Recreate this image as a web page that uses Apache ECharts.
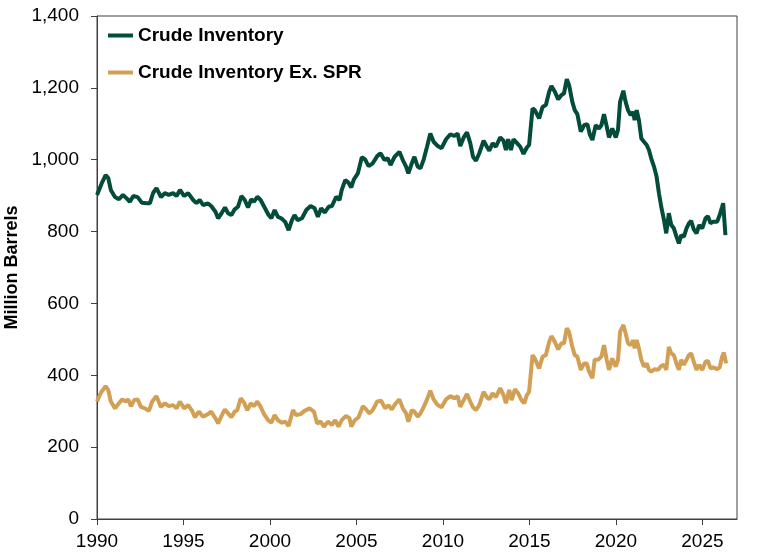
<!DOCTYPE html>
<html>
<head>
<meta charset="utf-8">
<script src="https://cdn.jsdelivr.net/npm/echarts@6/dist/echarts.min.js"></script>
<style>
  html, body { margin: 0; padding: 0; background: #fff; }
  #chart { width: 770px; height: 558px; }
</style>
</head>
<body>
<div id="chart"></div>
<script>
const seriesNames = ['Crude Inventory', 'Crude Inventory Ex. SPR'];
const yearTicks = [1990, 1995, 2000, 2005, 2010, 2015, 2020, 2025];

// Crude Inventory (million barrels)
const inventoryDates = [
  1990.00, 1990.27, 1990.50, 1990.65, 1990.80, 1991.04, 1991.27, 1991.50, 1991.70, 1991.90,
  1992.10, 1992.35, 1992.60, 1992.86, 1993.06, 1993.25, 1993.44, 1993.70, 1993.92, 1994.15,
  1994.40, 1994.60, 1994.80, 1995.04, 1995.27, 1995.56, 1995.75, 1995.94, 1996.13, 1996.42,
  1996.60, 1996.85, 1997.00, 1997.20, 1997.40, 1997.58, 1997.77, 1997.96, 1998.15, 1998.35,
  1998.54, 1998.73, 1998.92, 1999.08, 1999.27, 1999.46, 1999.69, 1999.92, 2000.08, 2000.27,
  2000.46, 2000.65, 2000.88, 2001.08, 2001.27, 2001.42, 2001.60, 2001.85, 2002.10, 2002.35,
  2002.58, 2002.77, 2002.96, 2003.16, 2003.39, 2003.58, 2003.83, 2004.02, 2004.15, 2004.35,
  2004.54, 2004.70, 2004.85, 2005.08, 2005.31, 2005.50, 2005.70, 2005.94, 2006.20, 2006.39,
  2006.62, 2006.81, 2006.97, 2007.20, 2007.48, 2007.68, 2007.87, 2008.00, 2008.20, 2008.35,
  2008.54, 2008.70, 2008.89, 2009.08, 2009.27, 2009.46, 2009.70, 2009.92, 2010.18, 2010.43,
  2010.66, 2010.85, 2011.00, 2011.20, 2011.39, 2011.58, 2011.74, 2011.91, 2012.10, 2012.35,
  2012.54, 2012.68, 2012.87, 2013.06, 2013.31, 2013.50, 2013.64, 2013.77, 2013.93, 2014.08,
  2014.27, 2014.47, 2014.66, 2014.85, 2014.98, 2015.18, 2015.31, 2015.56, 2015.76, 2015.95,
  2016.14, 2016.27, 2016.47, 2016.66, 2016.85, 2017.00, 2017.16, 2017.29, 2017.48, 2017.62,
  2017.77, 2017.97, 2018.16, 2018.35, 2018.50, 2018.64, 2018.83, 2019.02, 2019.16, 2019.31,
  2019.47, 2019.60, 2019.79, 2019.99, 2020.12, 2020.24, 2020.43, 2020.56, 2020.70, 2020.85,
  2021.00, 2021.08, 2021.20, 2021.33, 2021.47, 2021.62, 2021.78, 2021.91, 2022.04, 2022.20,
  2022.35, 2022.49, 2022.62, 2022.78, 2022.91, 2023.06, 2023.20, 2023.35, 2023.50, 2023.64,
  2023.77, 2023.93, 2024.08, 2024.22, 2024.35, 2024.50, 2024.66, 2024.81, 2024.99, 2025.18,
  2025.32, 2025.47, 2025.62, 2025.85, 2026.00, 2026.14, 2026.20, 2026.27, 2026.33
];
const inventory = [
  902, 934, 957, 949, 916, 896, 890, 902, 893, 883,
  899, 896, 880, 879, 879, 908, 921, 896, 907, 902,
  907, 899, 916, 899, 907, 888, 879, 888, 874, 878,
  871, 855, 837, 851, 867, 851, 846, 862, 869, 899,
  888, 867, 890, 883, 897, 888, 867, 846, 837, 860,
  841, 837, 827, 804, 832, 846, 832, 837, 860, 871,
  865, 841, 865, 853, 869, 871, 897, 888, 916, 943,
  936, 923, 945, 962, 1007, 1001, 982, 990, 1010, 1018,
  999, 1004, 985, 1008, 1022, 999, 981, 962, 990, 1008,
  981, 976, 1001, 1036, 1073, 1050, 1038, 1032, 1057, 1071,
  1066, 1073, 1038, 1062, 1076, 1046, 1008, 997, 1018, 1053,
  1036, 1025, 1046, 1036, 1062, 1053, 1027, 1057, 1027, 1057,
  1047, 1036, 1016, 1034, 1041, 1143, 1138, 1115, 1147, 1152,
  1189, 1205, 1189, 1168, 1180, 1185, 1224, 1208, 1161, 1138,
  1127, 1078, 1096, 1099, 1069, 1055, 1096, 1087, 1096, 1127,
  1092, 1062, 1087, 1062, 1083, 1161, 1192, 1161, 1138, 1124,
  1133, 1110, 1138, 1110, 1059, 1050, 1041, 1027, 1004, 981,
  953, 906, 869, 832, 795, 851, 818, 809, 786, 767,
  790, 786, 809, 823, 830, 806, 795, 818, 809, 837,
  843, 823, 827, 827, 846, 869, 879, 832, 790
];

// Crude Inventory Ex. SPR (million barrels)
const exSprDates = [
  1990.00, 1990.23, 1990.50, 1990.65, 1990.80, 1991.04, 1991.23, 1991.46, 1991.66, 1991.81,
  1991.96, 1992.15, 1992.35, 1992.54, 1992.77, 1993.00, 1993.19, 1993.44, 1993.69, 1993.92,
  1994.15, 1994.40, 1994.60, 1994.79, 1995.04, 1995.27, 1995.50, 1995.66, 1995.89, 1996.13,
  1996.42, 1996.60, 1996.85, 1997.00, 1997.20, 1997.39, 1997.58, 1997.77, 1997.96, 1998.11,
  1998.31, 1998.50, 1998.69, 1998.89, 1999.08, 1999.27, 1999.46, 1999.66, 1999.89, 2000.08,
  2000.27, 2000.46, 2000.69, 2000.89, 2001.08, 2001.33, 2001.52, 2001.77, 2002.00, 2002.29,
  2002.54, 2002.73, 2002.93, 2003.12, 2003.35, 2003.58, 2003.77, 2003.96, 2004.15, 2004.40,
  2004.60, 2004.70, 2004.89, 2005.12, 2005.37, 2005.56, 2005.75, 2005.94, 2006.20, 2006.43,
  2006.66, 2006.85, 2007.04, 2007.24, 2007.48, 2007.68, 2007.87, 2008.00, 2008.20, 2008.35,
  2008.54, 2008.70, 2008.89, 2009.08, 2009.27, 2009.46, 2009.70, 2009.92, 2010.18, 2010.43,
  2010.66, 2010.85, 2011.00, 2011.20, 2011.39, 2011.58, 2011.74, 2011.91, 2012.10, 2012.35,
  2012.54, 2012.68, 2012.87, 2013.06, 2013.31, 2013.50, 2013.64, 2013.83, 2013.97, 2014.16,
  2014.35, 2014.54, 2014.70, 2014.85, 2014.98, 2015.18, 2015.31, 2015.56, 2015.76, 2015.95,
  2016.14, 2016.27, 2016.47, 2016.66, 2016.85, 2017.00, 2017.16, 2017.29, 2017.48, 2017.62,
  2017.77, 2017.97, 2018.16, 2018.31, 2018.45, 2018.64, 2018.77, 2018.96, 2019.16, 2019.31,
  2019.47, 2019.60, 2019.79, 2019.99, 2020.12, 2020.24, 2020.43, 2020.56, 2020.70, 2020.85,
  2021.00, 2021.08, 2021.20, 2021.33, 2021.47, 2021.62, 2021.78, 2021.91, 2022.04, 2022.24,
  2022.43, 2022.62, 2022.78, 2022.91, 2023.06, 2023.20, 2023.35, 2023.50, 2023.64, 2023.77,
  2023.93, 2024.08, 2024.22, 2024.35, 2024.50, 2024.66, 2024.81, 2024.99, 2025.18, 2025.32,
  2025.47, 2025.62, 2025.85, 2026.00, 2026.14, 2026.24, 2026.37
];
const exSpr = [
  327, 352, 370, 359, 327, 308, 320, 333, 327, 333,
  314, 331, 333, 312, 308, 301, 327, 342, 312, 322,
  314, 317, 308, 327, 308, 317, 301, 283, 299, 285,
  292, 299, 280, 266, 287, 305, 294, 283, 299, 303,
  336, 324, 303, 322, 314, 327, 312, 292, 275, 268,
  289, 275, 268, 271, 259, 303, 289, 292, 301, 308,
  299, 266, 271, 257, 271, 262, 275, 257, 275, 287,
  280, 257, 274, 283, 314, 305, 294, 303, 327, 329,
  308, 317, 305, 320, 333, 308, 294, 271, 303, 299,
  285, 294, 312, 333, 357, 333, 317, 311, 333, 342,
  336, 342, 312, 331, 348, 327, 311, 303, 317, 354,
  339, 333, 350, 339, 364, 345, 322, 359, 331, 361,
  350, 331, 322, 345, 354, 456, 447, 419, 452, 456,
  493, 509, 493, 472, 489, 489, 531, 521, 479, 456,
  452, 415, 433, 433, 410, 392, 443, 443, 452, 484,
  443, 415, 447, 424, 443, 521, 540, 517, 489, 484,
  498, 475, 498, 475, 443, 424, 433, 415, 410, 417,
  415, 426, 429, 415, 479, 461, 456, 433, 415, 443,
  429, 443, 456, 461, 438, 415, 429, 415, 438, 440,
  419, 422, 417, 422, 452, 463, 433
];

const colors = ['#034C39', '#D1A055'];
const font = 'Liberation Sans, Arial, sans-serif';

function pairs(xs, ys) {
  return xs.map((x, i) => [x, ys[i]]);
}

const chart = echarts.init(document.getElementById('chart'), null, { renderer: 'canvas' });

const option = {
  animation: false,
  color: colors,
  grid: {
    left: 97,
    right: 33,
    top: 16,
    bottom: 39,
    outerBoundsMode: 'none',
    show: true,
    borderColor: '#404040',
    borderWidth: 1
  },
  legend: {
    orient: 'vertical',
    left: 103,
    top: 21,
    itemWidth: 25,
    itemHeight: 4,
    itemGap: 18,
    icon: 'rect',
    textStyle: {
      fontFamily: font,
      fontSize: 19,
      fontWeight: 'bold',
      color: '#000'
    },
    data: seriesNames
  },
  xAxis: {
    type: 'value',
    min: 1990,
    max: 2027,
    interval: 5,
    splitLine: { show: false },
    axisLine: { lineStyle: { color: '#404040', width: 1 } },
    axisTick: {
      show: true,
      length: 6,
      customValues: yearTicks,
      lineStyle: { color: '#404040' }
    },
    axisLabel: {
      customValues: yearTicks,
      margin: 13,
      fontFamily: font,
      fontSize: 19,
      color: '#000',
      formatter: v => (v % 5 === 0 ? String(v) : '')
    }
  },
  yAxis: {
    type: 'value',
    min: 0,
    max: 1400,
    interval: 200,
    name: 'Million Barrels',
    nameLocation: 'middle',
    nameGap: 72,
    nameTextStyle: {
      fontFamily: font,
      fontSize: 18,
      fontWeight: 'bold',
      color: '#000'
    },
    splitLine: { show: false },
    axisLine: { show: true, lineStyle: { color: '#404040', width: 1 } },
    axisTick: { show: true, length: 6, lineStyle: { color: '#404040' } },
    axisLabel: {
      margin: 18,
      fontFamily: font,
      fontSize: 19,
      color: '#000',
      formatter: v => v.toLocaleString('en-US')
    }
  },
  series: [
    {
      name: seriesNames[0],
      type: 'line',
      showSymbol: false,
      lineStyle: { width: 4, color: colors[0] },
      data: pairs(inventoryDates, inventory)
    },
    {
      name: seriesNames[1],
      type: 'line',
      showSymbol: false,
      lineStyle: { width: 4, color: colors[1] },
      data: pairs(exSprDates, exSpr)
    }
  ]
};

chart.setOption(option);
</script>
</body>
</html>
